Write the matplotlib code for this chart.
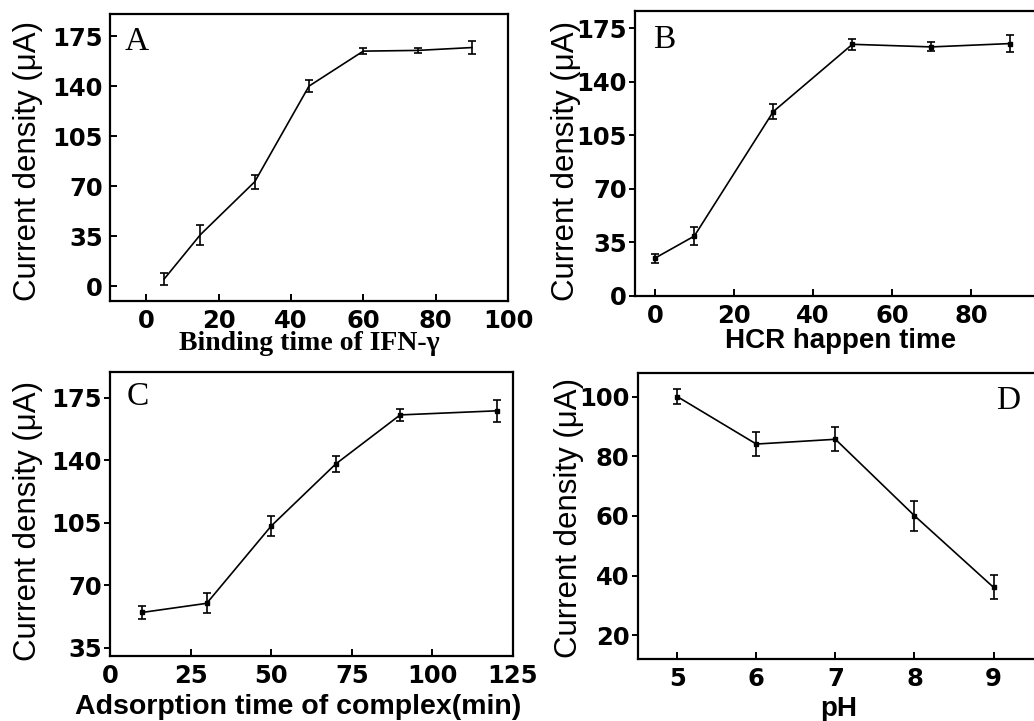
import matplotlib
matplotlib.use("Agg")
import matplotlib.pyplot as plt

# ---- data ----
a_x = [5, 15, 30, 45, 60, 75, 90]
a_y = [5, 36, 73, 140, 164.5, 165, 167]
a_err = [4, 7, 5, 4, 2, 2, 4.5]

b_x = [0, 10, 30, 50, 70, 90]
b_y = [24.5, 39, 120.5, 164.5, 162.8, 165]
b_err = [3, 6, 5, 3.5, 3, 5.5]

c_x = [10, 30, 50, 70, 90, 120]
c_y = [54.8, 59.9, 103.2, 137.9, 165.4, 167.7]
c_err = [3.5, 5.5, 5.5, 4.5, 3.5, 6]

d_x = [5, 6, 7, 8, 9]
d_y = [100, 84.1, 85.7, 60.1, 36.1]
d_err = [2.5, 4, 4, 5, 4]

a_xticks = [0, 20, 40, 60, 80, 100]
b_xticks = [0, 20, 40, 60, 80]
c_xticks = [0, 25, 50, 75, 100, 125]
d_xticks = [5, 6, 7, 8, 9]
abc_yticks = [0, 35, 70, 105, 140, 175]
c_yticks = [35, 70, 105, 140, 175]
d_yticks = [20, 40, 60, 80, 100]

W, H = 1034, 721
fig = plt.figure(figsize=(W / 100, H / 100), dpi=100)

def px_axes(left, top, right, bottom):
    return fig.add_axes([left / W, (H - bottom) / H, (right - left) / W, (bottom - top) / H])

tick_font = dict(family="DejaVu Sans", weight="bold", size=17.5)
ylab_font = dict(family="Liberation Sans", size=22.5)

def style(ax, xticks, yticks, ydir):
    for s in ax.spines.values():
        s.set_linewidth(1.6)
    ax.set_xticks(xticks)
    ax.set_yticks(yticks)
    ax.tick_params(axis="x", direction="in", length=5, width=1.4, pad=6)
    if ydir == "in":
        ax.tick_params(axis="y", direction="in", length=5, width=1.4, pad=5)
    else:
        ax.tick_params(axis="y", direction="out", length=4, width=1.4, pad=2)
    for lab in ax.get_xticklabels() + ax.get_yticklabels():
        lab.set_fontfamily(tick_font["family"])
        lab.set_fontweight(tick_font["weight"])
        lab.set_fontsize(tick_font["size"])

def plot(ax, x, y, err, marker):
    ax.errorbar(x, y, yerr=err, color="black", lw=1.2, elinewidth=1.2,
                capsize=3, capthick=1.2, marker=marker, ms=3.5,
                clip_on=False)

# Panel A
axA = px_axes(110, 14, 508, 301)
plot(axA, a_x, a_y, a_err, None)
axA.set_xlim(-10, 100)
axA.set_ylim(-10.5, 190.5)
style(axA, a_xticks, abc_yticks, "in")
axA.set_ylabel("Current density (μA)", **ylab_font)
axA.yaxis.set_label_coords(-0.168, 0.488)
axA.set_xlabel("Binding time of IFN-γ", family="Liberation Serif", weight="bold", size=20)
axA.xaxis.set_label_coords(0.501, -0.106)
axA.text(0.038, 0.955, "A", transform=axA.transAxes, family="Liberation Serif",
         size=24, va="top", ha="left")

# Panel B
axB = px_axes(635, 11, 1050, 295.7)
plot(axB, b_x, b_y, b_err, "s")
axB.set_xlim(-5, 100)
axB.set_ylim(0, 186.3)
style(axB, b_xticks, abc_yticks, "out")
axB.set_ylabel("Current density (μA)", **ylab_font)
axB.yaxis.set_label_coords(-0.130, 0.473)
axB.set_xlabel("HCR happen time", family="Liberation Sans", weight="bold", size=20)
axB.xaxis.set_label_coords(0.496, -0.113)
axB.text(0.043, 0.951, "B", transform=axB.transAxes, family="Liberation Serif",
         size=24, va="top", ha="left")

# Panel C
axC = px_axes(110, 371.7, 513, 656)
plot(axC, c_x, c_y, c_err, "s")
axC.set_xlim(0, 125)
axC.set_ylim(30.4, 189.6)
style(axC, c_xticks, c_yticks, "out")
axC.set_ylabel("Current density (μA)", **ylab_font)
axC.yaxis.set_label_coords(-0.166, 0.475)
axC.set_xlabel("Adsorption time of complex(min)", family="Liberation Sans", weight="bold", size=20.5)
axC.xaxis.set_label_coords(0.468, -0.135)
axC.text(0.042, 0.964, "C", transform=axC.transAxes, family="Liberation Serif",
         size=24, va="top", ha="left")

# Panel D
axD = px_axes(637.7, 372.7, 1041, 659)
plot(axD, d_x, d_y, d_err, "s")
axD.set_xlim(4.5, 9.6)
axD.set_ylim(12.1, 108)
style(axD, d_xticks, d_yticks, "out")
axD.set_ylabel("Current density (μA)", **ylab_font)
axD.yaxis.set_label_coords(-0.133, 0.491)
axD.set_xlabel("pH", family="Liberation Sans", weight="bold", size=20)
axD.xaxis.set_label_coords(0.4995, -0.129)
axD.text(0.949, 0.957, "D", transform=axD.transAxes, family="Liberation Serif",
         size=24, va="top", ha="right")

fig.savefig("out.png", dpi=100)
